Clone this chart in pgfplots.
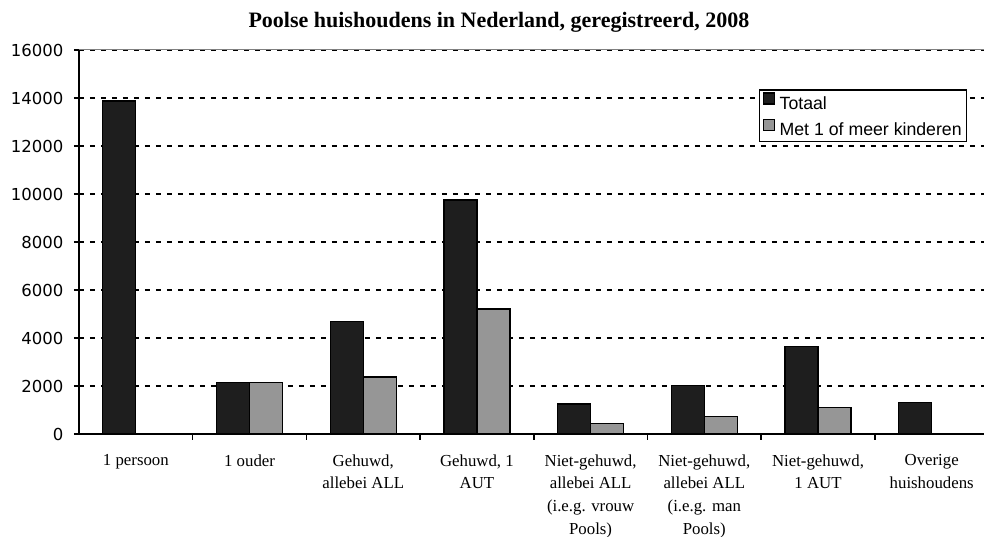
\documentclass[border=0pt]{standalone}
\usepackage{pgfplots}
\pgfplotsset{compat=1.18}
\usepackage{fontspec}
\setmainfont{Liberation Serif}
\newfontfamily\tickfont{DejaVu Sans}
\newfontfamily\legfont{Liberation Sans}
\definecolor{barblack}{RGB}{30,30,30}
\definecolor{bargray}{RGB}{150,150,150}
\pgfplotsset{mylegend/.style={legend image code/.code={\draw[##1, line width=1.2bp] (0bp,-0.5bp) rectangle (10.5bp,10.5bp); \path[draw=none, fill=none] (-1bp,0bp) -- (14.5bp,0bp);}}}
\begin{document}
\begin{tikzpicture}
\begin{axis}[
  name=ax,
  at={(0,0)}, anchor=south west,
  scale only axis, width=905bp, height=384bp,
  ymin=0, ymax=16000, xmin=-0.5, xmax=7.46,
  ytick={0,2000,...,16000},
  scaled y ticks=false,
  axis x line*=bottom, axis y line*=left,
  axis line style={black, line width=1.6bp},
  ymajorgrids,
  grid style={black, line width=2.4bp, dash pattern=on 5bp off 6bp},
  tick align=outside,
  y tick style={black, line width=1.5bp},
  major tick length=5bp,
  /pgf/number format/assume math mode=true,
  /pgf/number format/set thousands separator={},
  yticklabel style={font=\tickfont\fontsize{16.5bp}{18bp}\selectfont, xshift=-7bp},
  xtick={0,...,7},
  xticklabels={{1 persoon},{1 ouder},{Gehuwd,\\allebei ALL},{Gehuwd, 1\\AUT},{Niet-gehuwd,\\allebei ALL\\(i.e.g. vrouw\\Pools)},{Niet-gehuwd,\\allebei ALL\\(i.e.g. man\\Pools)},{Niet-gehuwd,\\1 AUT},{Overige\\huishoudens}},
  xticklabel style={font=\fontsize{16.8bp}{22.7bp}\selectfont, align=center, anchor=north, yshift=-12bp},
  x tick style={draw=none},
  minor xtick={0.5,1.5,...,6.5},
  minor x tick style={draw=black, line width=1.5bp},
  minor tick length=6bp,
  legend cell align=left,
  legend style={at={(0.981,0.8977)}, anchor=north east, draw=black, line width=1.3bp,
    font=\legfont\fontsize{17.7bp}{20bp}\selectfont, inner xsep=3bp, inner ysep=2.5bp, row sep=7bp,
    nodes={inner sep=1.5bp}},
  clip=false,
]
\addplot[ybar, bar width=33bp, bar shift=-16.5bp, fill=barblack, draw=black, line width=1.3bp, mylegend]
  coordinates {(0,13870) (1,2150) (2,4680) (3,9750) (4,1250) (5,2025) (6,3640) (7,1310)};
\addplot[ybar, bar width=33bp, bar shift=16.5bp, fill=bargray, draw=black, line width=1.3bp, mylegend]
  coordinates {(1,2140) (2,2375) (3,5210) (4,430) (5,720) (6,1110)};
\legend{Totaal, Met 1 of meer kinderen}
\draw[gray, line width=1bp] (rel axis cs:0,1) -- (rel axis cs:1,1);
\end{axis}
\node[font=\bfseries\fontsize{22bp}{24bp}\selectfont, anchor=base] at (420bp,406bp) {Poolse huishoudens in Nederland, geregistreerd, 2008};
\pgfresetboundingbox
\useasboundingbox ([xshift=-79bp,yshift=-103bp]ax.south west) rectangle ([yshift=50bp]ax.north east);
\end{tikzpicture}
\end{document}
